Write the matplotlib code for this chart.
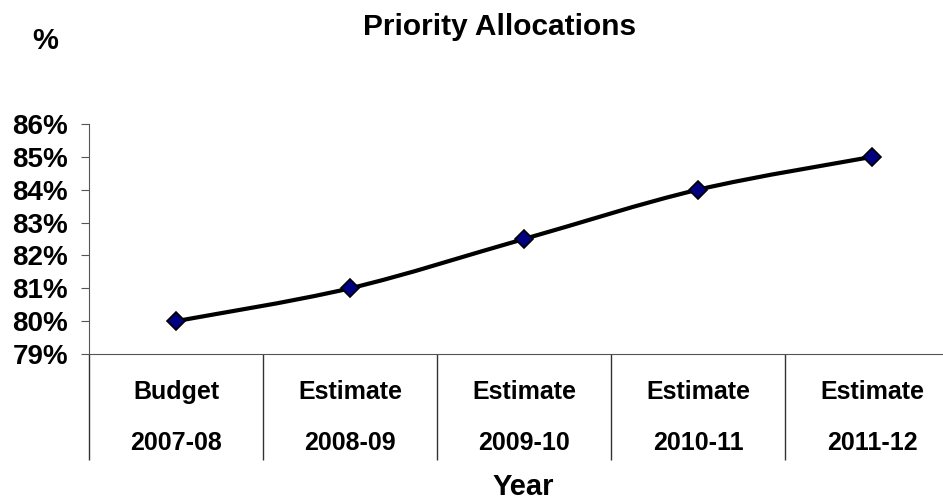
import matplotlib
matplotlib.use("Agg")
import matplotlib.pyplot as plt
from matplotlib.path import Path
from matplotlib.patches import PathPatch
import numpy as np

plt.rcParams['font.family'] = ['Liberation Sans', 'DejaVu Sans']
plt.rcParams['font.weight'] = 'bold'

# data
stages = ["Budget", "Estimate", "Estimate", "Estimate", "Estimate"]
years = ["2007-08", "2008-09", "2009-10", "2010-11", "2011-12"]
values = [0.80, 0.81, 0.825, 0.84, 0.85]
y_ticks = [0.79, 0.80, 0.81, 0.82, 0.83, 0.84, 0.85, 0.86]

W, H = 943, 503
fig = plt.figure(figsize=(W / 100, H / 100), dpi=100)
# axes runs a bit past the right edge of the picture, as in the original
ax = fig.add_axes([89 / W, 149 / H, 870 / W, 230 / H])

x = np.arange(len(values))
y = np.array(values)

# smoothed line (excel style, catmull-rom -> bezier)
verts = [(x[0], y[0])]
codes = [Path.MOVETO]
for i in range(len(x) - 1):
    p0 = np.array([x[max(i - 1, 0)], y[max(i - 1, 0)]])
    p1 = np.array([x[i], y[i]])
    p2 = np.array([x[i + 1], y[i + 1]])
    p3 = np.array([x[min(i + 2, len(x) - 1)], y[min(i + 2, len(x) - 1)]])
    c1 = p1 + (p2 - p0) / 6
    c2 = p2 - (p3 - p1) / 6
    verts += [tuple(c1), tuple(c2), tuple(p2)]
    codes += [Path.CURVE4] * 3
ax.add_patch(PathPatch(Path(verts, codes), fill=False, lw=3, color='black', zorder=2))
ax.plot(x, y, linestyle='none', marker='D', ms=9, mfc='#000080', mec='black', mew=1.2, zorder=3)

ax.set_xlim(-0.5, len(values) - 0.5)
ax.set_ylim(0.79, 0.86)
ax.set_yticks(y_ticks)
ax.set_yticklabels([f"{v * 100:.0f}%" for v in y_ticks], fontsize=20, fontweight='bold')

for s in ['top', 'right']:
    ax.spines[s].set_visible(False)
ax.spines['left'].set_color('#555555')
ax.spines['bottom'].set_color('#555555')
ax.tick_params(axis='y', direction='out', length=6, color='#555555', pad=9)

# category separators drawn as long minor ticks
ax.set_xticks([])
ax.set_xticks(np.arange(-0.5, len(values), 1.0), minor=True)
ax.tick_params(axis='x', which='minor', direction='out', length=76, color='#333333', width=1)
ax.set_xticklabels([], minor=True)

tr = ax.get_xaxis_transform()
for i in range(len(values)):
    ax.text(i, -38 / 230, stages[i], transform=tr, ha='center', va='center', fontsize=18, fontweight='bold')
    ax.text(i, -89 / 230, years[i], transform=tr, ha='center', va='center', fontsize=18, fontweight='bold')

fig.text(500 / W, 1 - 27 / H, "Priority Allocations", ha='center', va='center', fontsize=21.5, fontweight='bold')
fig.text(45 / W, 1 - 41 / H, "%", ha='center', va='center', fontsize=21, fontweight='bold')
fig.text(523 / W, 1 - 487 / H, "Year", ha='center', va='center', fontsize=21, fontweight='bold')

fig.savefig("out.png", dpi=100)
